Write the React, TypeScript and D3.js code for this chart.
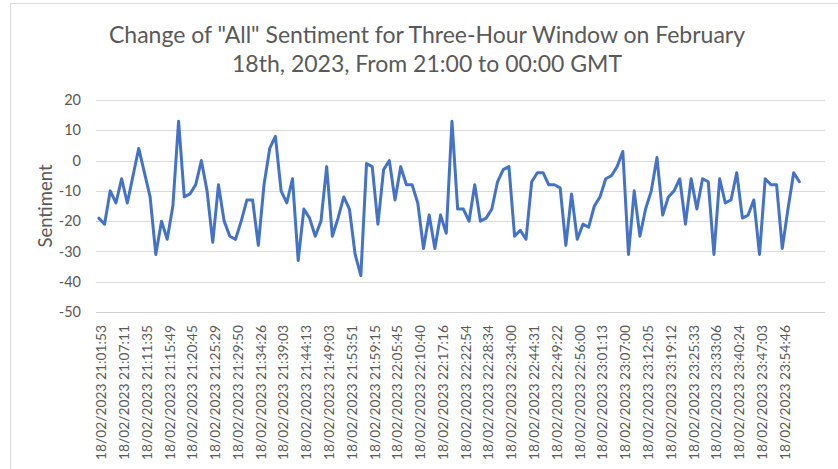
import React from "react";
import * as d3 from "d3";

const titleLines = [
  'Change of "All" Sentiment for Three-Hour Window on February',
  "18th, 2023, From 21:00 to 00:00 GMT",
];
const yAxisTitle = "Sentiment";
const yTicks = [20, 10, 0, -10, -20, -30, -40, -50];

// sentiment values, one per timestamp (124 points)
const sentiment = [
  -19, -21, -10, -14, -6, -14, -5, 4, -4, -12,
  -31, -20, -26, -15, 13, -12, -11, -8, 0, -10,
  -27, -8, -20, -25, -26, -20, -13, -13, -28, -8,
  4, 8, -10, -14, -6, -33, -16, -19, -25, -20,
  -2, -25, -19, -12, -16, -31, -38, -1, -2, -21,
  -3, 0, -13, -2, -8, -8, -14, -29, -18, -29,
  -18, -24, 13, -16, -16, -20, -8, -20, -19, -16,
  -7, -3, -2, -25, -23, -26, -7, -4, -4, -8,
  -8, -9, -28, -11, -26, -21, -22, -15, -12, -6,
  -5, -2, 3, -31, -10, -25, -16, -10, 1, -18,
  -12, -10, -6, -21, -6, -16, -6, -7, -31, -6,
  -14, -13, -4, -19, -18, -13, -31, -6, -8, -8,
  -29, -16, -4, -7,
];

// category axis labels shown (every 4th category)
const tickLabels = [
  "18/02/2023 21:01:53", "18/02/2023 21:07:11", "18/02/2023 21:11:35",
  "18/02/2023 21:15:49", "18/02/2023 21:20:45", "18/02/2023 21:25:29",
  "18/02/2023 21:29:50", "18/02/2023 21:34:26", "18/02/2023 21:39:03",
  "18/02/2023 21:44:13", "18/02/2023 21:49:03", "18/02/2023 21:53:51",
  "18/02/2023 21:59:15", "18/02/2023 22:05:45", "18/02/2023 22:10:40",
  "18/02/2023 22:17:16", "18/02/2023 22:22:54", "18/02/2023 22:28:34",
  "18/02/2023 22:34:00", "18/02/2023 22:44:31", "18/02/2023 22:49:22",
  "18/02/2023 22:56:00", "18/02/2023 23:01:13", "18/02/2023 23:07:00",
  "18/02/2023 23:12:05", "18/02/2023 23:19:12", "18/02/2023 23:25:33",
  "18/02/2023 23:33:06", "18/02/2023 23:40:24", "18/02/2023 23:47:03",
  "18/02/2023 23:54:46",
];
const labelStep = 4;
const categoryCount = 128; // includes trailing empty rows

const W = 838;
const H = 469;
const FONT = "Lato, 'Open Sans', sans-serif";
const TEXT = "#595959";

export default function App() {
  const left = 96, right = 825, top = 100, bottom = 312;
  const x = d3.scaleBand<number>().domain(d3.range(categoryCount)).range([left, right]).padding(0);
  const cx = (i: number) => (x(i) as number) + x.bandwidth() / 2;
  const y = d3.scaleLinear().domain([-50, 20]).range([bottom, top]);
  const line = d3
    .line<number>()
    .x((_, i) => cx(i))
    .y((d) => y(d));

  return (
    <svg
      width={W}
      height={H}
      style={{ position: "absolute", left: 0, top: 0, background: "#fff" }}
      fontFamily={FONT}
    >
      <rect x={0} y={0} width={W} height={H} fill="#fff" />
      <rect x={10.5} y={3.5} width={W + 20} height={H + 20} fill="none" stroke="#d9d9d9" strokeWidth={1} />
      {titleLines.map((t, i) => (
        <text key={i} x={427} y={42.5 + i * 29.5} textAnchor="middle" fontSize={23} fill={TEXT}>
          {t}
        </text>
      ))}
      {yTicks.map((t) => (
        <g key={t}>
          <line
            x1={left}
            x2={right}
            y1={Math.round(y(t)) + 0.5}
            y2={Math.round(y(t)) + 0.5}
            stroke={t === -50 ? "#d0d0d0" : "#d9d9d9"}
            strokeWidth={1}
          />
          <text x={81} y={y(t)} dy="0.35em" textAnchor="end" fontSize={14.5} fill={TEXT}>
            {t}
          </text>
        </g>
      ))}
      <text
        transform={`translate(46,${(top + bottom) / 2}) rotate(-90)`}
        textAnchor="middle"
        dy="0.35em"
        fontSize={18.5}
        fill={TEXT}
      >
        {yAxisTitle}
      </text>
      {tickLabels.map((lab, k) => (
        <text
          key={lab}
          transform={`translate(${cx(k * labelStep) + 2.5},${bottom + 13}) rotate(-90)`}
          textAnchor="end"
          dy="0.35em"
          fontSize={13.8}
          fill={TEXT}
        >
          {lab}
        </text>
      ))}
      <path
        d={line(sentiment) || ""}
        fill="none"
        stroke="#4472c4"
        strokeWidth={3}
        strokeLinejoin="round"
        strokeLinecap="round"
      />
    </svg>
  );
}
